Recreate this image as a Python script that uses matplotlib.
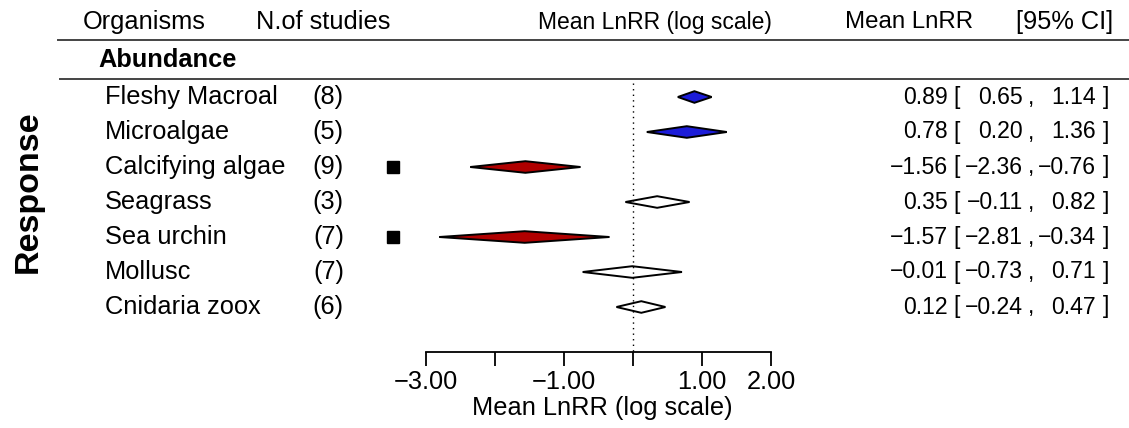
import matplotlib
matplotlib.use("Agg")
import matplotlib.pyplot as plt
from matplotlib.patches import Polygon

plt.rcParams["font.family"] = ["Liberation Sans", "DejaVu Sans"]

# Meta-analysis results: abundance response by organism group
organisms = ["Fleshy Macroal", "Microalgae", "Calcifying algae", "Seagrass",
             "Sea urchin", "Mollusc", "Cnidaria zoox"]
n_studies = [8, 5, 9, 3, 7, 7, 6]
mean_lnrr = [0.89, 0.78, -1.56, 0.35, -1.57, -0.01, 0.12]
ci_low = [0.65, 0.20, -2.36, -0.11, -2.81, -0.73, -0.24]
ci_high = [1.14, 1.36, -0.76, 0.82, -0.34, 0.71, 0.47]
fill_colors = ["#1c1cd8", "#1c1cd8", "#b00000", "white", "#b00000", "white", "white"]
flagged = [False, False, True, False, True, False, False]

tick_values = [-3, -2, -1, 0, 1, 2]
tick_labels = ["\u22123.00", "", "\u22121.00", "", "1.00", "2.00"]
flag_x = -3.48

W, H = 1129, 428
FS = 18.3
FS_NUM = 16.6
fig = plt.figure(figsize=(W / 100, H / 100), dpi=100)

# Layout axes in pixel units for the table text and rules
lay = fig.add_axes([0, 0, 1, 1])
lay.set_xlim(0, W)
lay.set_ylim(H, 0)
lay.axis("off")

# Forest axes: LnRR on x, same pixel rows on y
fx0, fx1 = 380, 820
fa = fig.add_axes([fx0 / W, 0, (fx1 - fx0) / W, 1])
fa.set_xlim(-3 - (426 - fx0) / 69.0, 2 + (fx1 - 771) / 69.0)
fa.set_ylim(H, 0)
fa.patch.set_alpha(0)
for s in ["top", "left", "right"]:
    fa.spines[s].set_visible(False)
fa.spines["bottom"].set_position(("data", 352))
fa.spines["bottom"].set_bounds(tick_values[0], tick_values[-1])
fa.spines["bottom"].set_linewidth(1.3)
fa.set_yticks([])
fa.set_xticks(tick_values)
fa.set_xticklabels(tick_labels, fontsize=FS)
fa.tick_params(axis="x", direction="out", length=10, width=1.3, pad=3)

row0, step = 97, 35
rows = [row0 + i * step for i in range(len(organisms))]
half_h = 5.8

# Reference line at zero
fa.plot([0, 0], [83, 352], color="black", lw=1.0, ls=(0, (1, 3)))

for y, m, lo, hi, c, fl in zip(rows, mean_lnrr, ci_low, ci_high, fill_colors, flagged):
    diamond = Polygon([(lo, y), (m, y - half_h), (hi, y), (m, y + half_h)],
                      closed=True, facecolor=c, edgecolor="black", lw=1.4)
    fa.add_patch(diamond)
    if fl:
        fa.plot(flag_x, y, marker="s", color="black", markersize=8.5, ls="none")

fa.text(0.5 * (tick_values[0] + tick_values[-1]) + 0.05, 408, "Mean LnRR (log scale)",
        ha="center", va="center", fontsize=FS, transform=fa.transData)

# Header and rules
hdr_y = 22
lay.text(83, hdr_y, "Organisms", ha="left", va="center", fontsize=FS)
lay.text(256, hdr_y, "N.of studies", ha="left", va="center", fontsize=FS)
lay.text(655, hdr_y, "Mean LnRR (log scale)", ha="center", va="center", fontsize=16.5)
lay.text(845, hdr_y, "Mean LnRR", ha="left", va="center", fontsize=17.3)
lay.text(1113, hdr_y, "[95% CI]", ha="right", va="center", fontsize=FS)
lay.plot([58, W], [40, 40], color="#444444", lw=1.4)
lay.text(98, 60, "Abundance", ha="left", va="center", fontsize=FS, fontweight="bold")
lay.plot([60, W], [79, 79], color="#444444", lw=1.4)

lay.text(28, 192, "Response", rotation=90, ha="center", va="center",
         fontsize=24.5, fontweight="bold")


def fmt(v):
    return f"{v:.2f}".replace("-", "\u2212")


# Estimate and CI columns, each right-aligned at its own edge
est_x, lb_x, lo_x, comma_x, hi_x, rb_x = 948, 953, 1023, 1028, 1096, 1109
for y, name, n, m, lo, hi in zip(rows, organisms, n_studies, mean_lnrr, ci_low, ci_high):
    lay.text(105, y, name, ha="left", va="center", fontsize=FS)
    lay.text(344, y, f"({n})", ha="right", va="center", fontsize=FS)
    lay.text(est_x, y, fmt(m), ha="right", va="center", fontsize=FS_NUM)
    lay.text(lb_x, y, "[", ha="left", va="center", fontsize=FS_NUM)
    lay.text(lo_x, y, fmt(lo), ha="right", va="center", fontsize=FS_NUM)
    lay.text(comma_x, y, ",", ha="left", va="center", fontsize=FS_NUM)
    lay.text(hi_x, y, fmt(hi), ha="right", va="center", fontsize=FS_NUM)
    lay.text(rb_x, y, "]", ha="right", va="center", fontsize=FS_NUM)

fig.savefig("out.png", dpi=100)
